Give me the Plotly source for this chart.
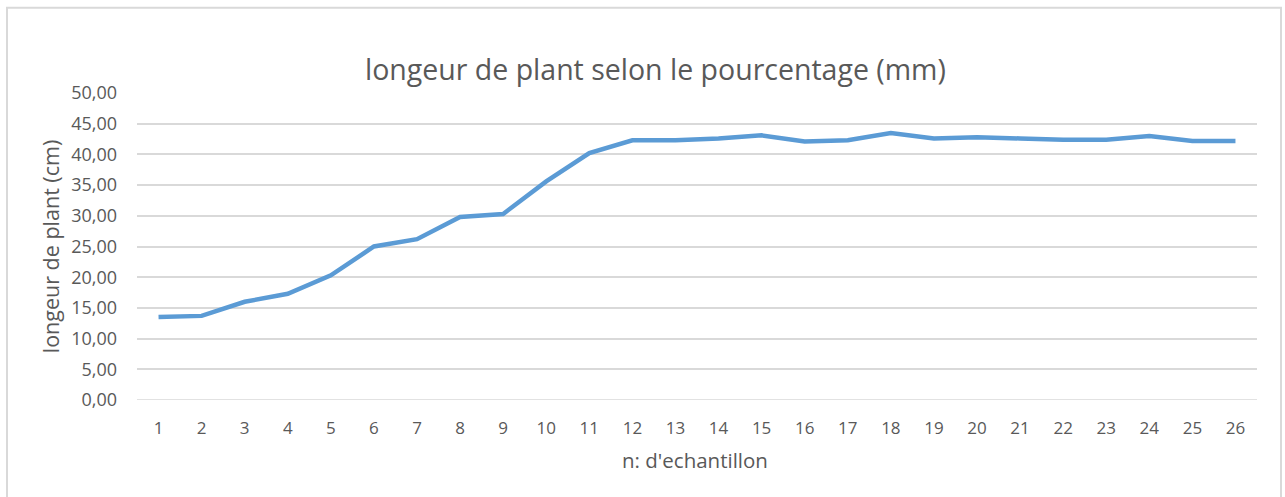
import plotly.graph_objects as go

# Plant length per sample number
samples = list(range(1, 27))
lengths = [13.5, 13.7, 16.0, 17.3, 20.3, 25.0, 26.2, 29.8, 30.3, 35.6,
           40.2, 42.3, 42.3, 42.6, 43.1, 42.1, 42.3, 43.5, 42.6, 42.8,
           42.6, 42.4, 42.4, 43.0, 42.2, 42.2]
y_ticks = [0, 5, 10, 15, 20, 25, 30, 35, 40, 45, 50]
y_tick_text = ["0,00", "5,00", "10,00", "15,00", "20,00", "25,00",
               "30,00", "35,00", "40,00", "45,00", "50,00"]

W, H = 1285, 497
L, R, T, B = 137, 28, 92.5, 97
pw, ph = W - L - R, H - T - B

def px(x):
    return (x - L) / pw

def py(y):
    return (H - B - y) / ph

font = "Open Sans"
grey = "#595959"

fig = go.Figure()
fig.add_trace(go.Scatter(
    x=samples, y=lengths, mode="lines",
    line=dict(color="#5B9BD5", width=4.5, shape="linear"),
    hoverinfo="x+y", showlegend=False,
))

fig.update_layout(
    width=W, height=H,
    margin=dict(l=L, r=R, t=T, b=B, pad=0),
    paper_bgcolor="white", plot_bgcolor="white",
    font=dict(family=font, color=grey),
    xaxis=dict(
        range=[0.5, 26.5], tickmode="array", tickvals=samples,
        ticktext=[str(s) for s in samples],
        showgrid=False, zeroline=False, showline=False,
        tickfont=dict(size=17, color=grey), ticklabelstandoff=16,
    ),
    yaxis=dict(
        range=[0, 50], tickmode="array", tickvals=y_ticks, ticktext=y_tick_text,
        showgrid=True, gridcolor="#d9d9d9", gridwidth=1.5,
        zeroline=False, showline=False,
        tickfont=dict(size=18, color=grey), ticklabelstandoff=19,
    ),
    shapes=[
        # chart border
        dict(type="rect", xref="paper", yref="paper",
             x0=px(7), x1=px(1281), y0=py(7), y1=py(520),
             line=dict(color="#d9d9d9", width=2), fillcolor="rgba(0,0,0,0)",
             layer="below"),
        # baseline gridline at 0
        dict(type="line", xref="paper", yref="y", x0=0, x1=1, y0=0, y1=0,
             line=dict(color="#d9d9d9", width=1.5), layer="below"),
    ],
    annotations=[
        dict(text="longeur de plant selon le pourcentage (mm)",
             xref="paper", yref="paper", x=px(655), y=py(68),
             xanchor="center", yanchor="middle", showarrow=False,
             font=dict(size=28.5, color=grey, family=font)),
        dict(text="n: d'echantillon",
             xref="paper", yref="paper", x=px(695), y=py(460),
             xanchor="center", yanchor="middle", showarrow=False,
             font=dict(size=20.5, color=grey, family=font)),
        dict(text="longeur de plant (cm)",
             xref="paper", yref="paper", x=px(50), y=py(246),
             xanchor="center", yanchor="middle", showarrow=False, textangle=-90,
             font=dict(size=21.5, color=grey, family=font)),
    ],
)

fig.write_html("out.html")
